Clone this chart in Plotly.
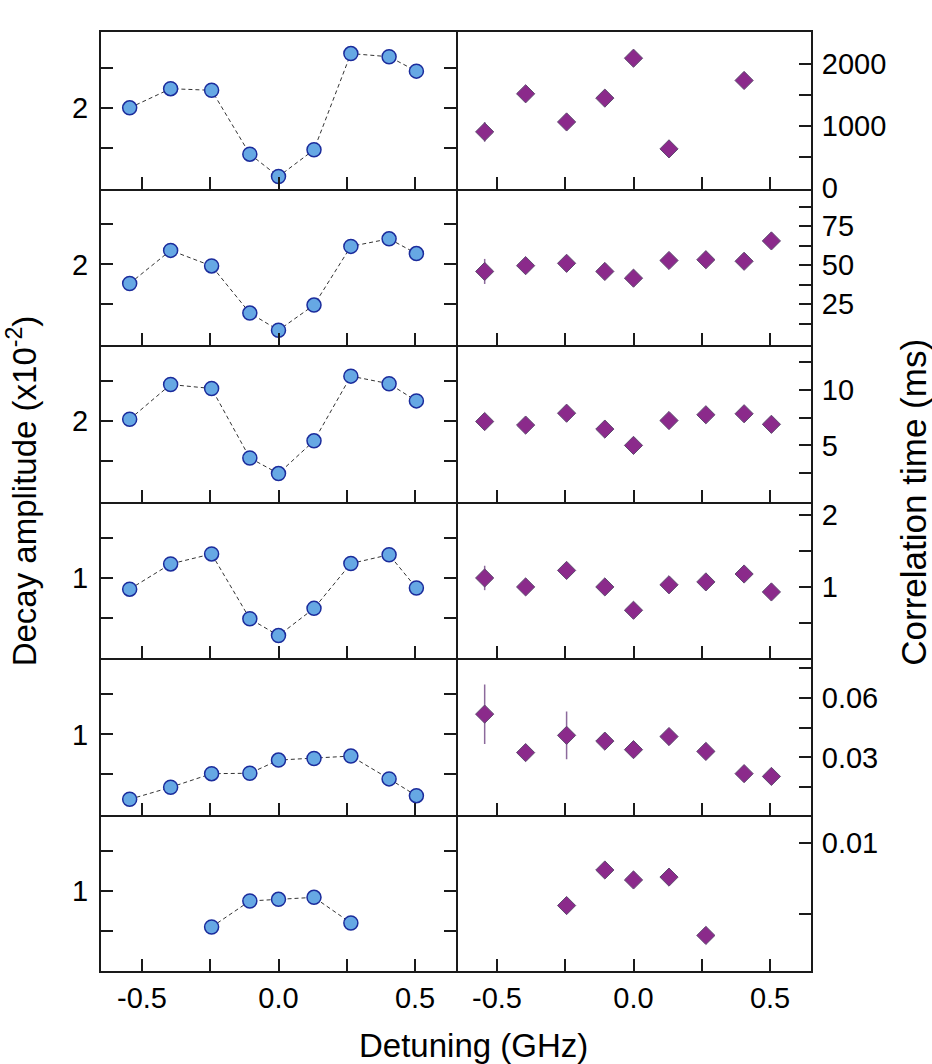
import plotly.graph_objects as go
from plotly.subplots import make_subplots

# detuning positions (GHz)
detuning = [-0.545, -0.395, -0.245, -0.105, 0.0, 0.13, 0.265, 0.405, 0.505]

# decay amplitude (x10^-2), one list per row
amp_1 = [2.00, 2.24, 2.22, 1.42, 1.14, 1.475, 2.68, 2.64, 2.46]
amp_2 = [1.76, 2.175, 1.98, 1.39, 1.175, 1.49, 2.225, 2.32, 2.135]
amp_3 = [2.02, 2.455, 2.405, 1.535, 1.34, 1.75, 2.56, 2.465, 2.25]
amp_4 = [0.86, 1.175, 1.30, 0.49, 0.28, 0.62, 1.18, 1.29, 0.875]
amp_5 = [0.19, 0.34, 0.51, 0.515, 0.68, 0.70, 0.73, 0.445, 0.235]
amp_6 = [None, None, 0.55, 0.875, 0.895, 0.92, 0.60, None, None]

# correlation time (ms), one list per row
tau_1 = [905, 1520, 1065, 1450, 2095, 630, None, 1735, None]
tau_2 = [46, 49.7, 51.2, 46, 41.7, 53, 53.5, 52.5, 65.5]
tau_3 = [7.15, 6.83, 7.9, 6.47, 5.0, 7.24, 7.76, 7.85, 6.9]
tau_4 = [1.125, 1.0, 1.23, 1.0, 0.675, 1.03, 1.07, 1.18, 0.93]
tau_5 = [0.0518, 0.0324, 0.0411, 0.0382, 0.0339, 0.0405, 0.033, 0.0218, 0.0204]
tau_6 = [None, None, 0.0056, 0.0081, 0.0074, 0.0076, 0.0035, None, None]

# error bars on correlation time
err_1 = [160, 0, 0, 0, 0, 0, 0, 0, 0]
err_2 = [8, 0, 0, 0, 0, 0, 0, 0, 0]
err_3 = [0, 0, 0, 0, 0, 0, 0, 0, 0]
err_4 = [0.17, 0, 0, 0, 0, 0, 0, 0, 0]
err_5 = [0.015, 0, 0.012, 0, 0, 0, 0, 0, 0]
err_6 = [0, 0, 0, 0, 0, 0, 0, 0, 0]

amps = [amp_1, amp_2, amp_3, amp_4, amp_5, amp_6]
taus = [tau_1, tau_2, tau_3, tau_4, tau_5, tau_6]
errs = [err_1, err_2, err_3, err_4, err_5, err_6]

# axis settings
amp_ranges = [[0.99, 2.95]] * 3 + [[0.0, 1.955]] * 3
amp_ticks = [[1.5, 2, 2.5]] * 3 + [[0.5, 1, 1.5]] * 3
amp_labels = [["", "2", ""]] * 3 + [["", "1", ""]] * 3

tau_ranges = [[-10, 2518], [-1, 99], [-0.05, 14.04], [0.01, 2.19],
              [0.0012, 0.0801], [0.001, 0.012]]
tau_ticks = [[0, 500, 1000, 1500, 2000],
             [12.5, 25, 37.5, 50, 62.5, 75, 87.5],
             [2.5, 5, 7.5, 10, 12.5],
             [0.5, 1, 1.5, 2],
             [0.015, 0.03, 0.045, 0.06, 0.075],
             [0.005, 0.01]]
tau_labels = [["0", "", "1000", "", "2000"],
              ["", "25", "", "50", "", "75", ""],
              ["", "5", "", "10", ""],
              ["", "1", "", "2"],
              ["", "0.03", "", "0.06", ""],
              ["", "0.01"]]

x_ticks = [-0.5, -0.25, 0.0, 0.25, 0.5]
x_labels = ["-0.5", "", "0.0", "", "0.5"]

FONT = "Arial, Liberation Sans, sans-serif"
AXIS = dict(showline=True, linecolor="#1a1a1a", linewidth=2, ticks="inside",
            ticklen=12, tickwidth=2, tickcolor="#1a1a1a", showgrid=False,
            zeroline=False, tickfont=dict(size=29, color="black", family=FONT))

fig = make_subplots(rows=6, cols=2, horizontal_spacing=0, vertical_spacing=0)

for r in range(6):
    row = r + 1
    fig.add_trace(go.Scatter(
        x=detuning, y=amps[r], mode="lines+markers",
        line=dict(color="#333333", width=1, dash="4px,3px"),
        marker=dict(symbol="circle", size=14, color="#66A8E4",
                    line=dict(color="#1B2C9C", width=1.5)),
        connectgaps=False, showlegend=False), row=row, col=1)

    fig.add_trace(go.Scatter(
        x=detuning, y=taus[r], mode="markers",
        error_y=dict(type="data", array=errs[r], visible=True,
                     color="#8C6A9C", thickness=1.5, width=0),
        marker=dict(symbol="diamond", size=14, color="#8B2A8B",
                    line=dict(color="#5E4A70", width=1)),
        showlegend=False), row=row, col=2)

    last = row == 6
    # only the top row needs a top frame line; below that the row above's
    # bottom axis line already separates the panels
    for col in (1, 2):
        fig.update_xaxes(AXIS, range=[-0.65, 0.65], tickvals=x_ticks,
                         ticktext=x_labels if last else [""] * 5,
                         mirror=(row == 1), row=row, col=col)

    # left panel's mirrored line doubles as the divider between the columns
    fig.update_yaxes(AXIS, range=amp_ranges[r], tickvals=amp_ticks[r],
                     ticktext=amp_labels[r], mirror="ticks",
                     ticklabelstandoff=5, row=row, col=1)
    fig.update_yaxes(AXIS, range=tau_ranges[r], tickvals=tau_ticks[r],
                     ticktext=tau_labels[r], side="right", mirror=False,
                     ticklabelstandoff=3, row=row, col=2)

fig.add_annotation(text="Detuning (GHz)", x=0.524, y=-0.079, xref="paper",
                   yref="paper", showarrow=False, yanchor="middle",
                   font=dict(size=33, color="black", family=FONT))
fig.add_annotation(text="Decay amplitude (x10<sup>-2</sup>)", x=-0.111, y=0.511,
                   xref="paper", yref="paper", textangle=-90, showarrow=False,
                   xanchor="center", font=dict(size=33, color="black", family=FONT))
fig.add_annotation(text="Correlation time (ms)", x=1.144, y=0.499, xref="paper",
                   yref="paper", textangle=-90, showarrow=False, xanchor="center",
                   font=dict(size=35, color="black", family=FONT))

fig.update_layout(
    width=932, height=1064,
    margin=dict(l=101, r=121, t=32, b=93),
    paper_bgcolor="white", plot_bgcolor="white",
    font=dict(family=FONT, color="black"),
)

# drop the default 8px page margin so the figure fills the window exactly
fig.write_html("out.html", config={"displayModeBar": False},
               post_script="document.body.style.margin = '0';")
